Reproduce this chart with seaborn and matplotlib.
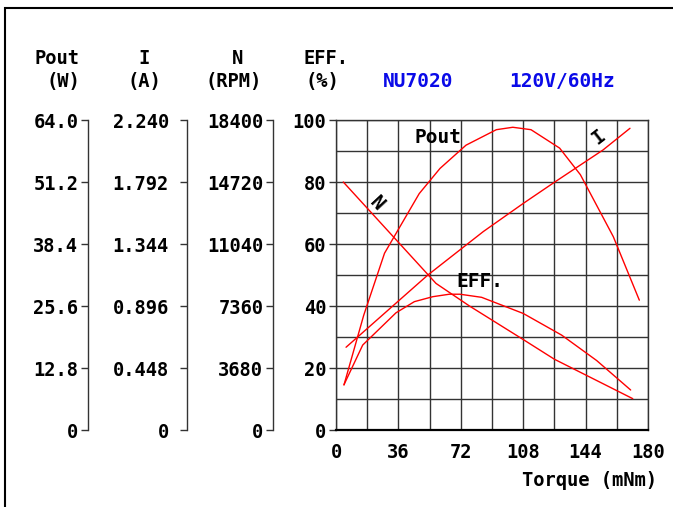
import numpy as np
import pandas as pd
import seaborn as sns
import matplotlib
matplotlib.use("Agg")
import matplotlib.pyplot as plt
from matplotlib.patches import Rectangle

# curve data (torque in mNm)
pout_torque = [4.6, 16, 28, 48, 60, 75, 92.5, 102, 112.5, 129, 141, 160, 175]
pout_w = [9.3, 23.7, 36.5, 48.8, 54.0, 58.8, 62.0, 62.5, 62.0, 58.2, 52.7, 39.9, 26.8]

i_torque = [5.8, 53, 85, 108, 126, 154, 169.6]
i_amp = [0.598, 1.12, 1.434, 1.637, 1.790, 2.023, 2.180]

n_torque = [4.2, 57.7, 77, 108, 126, 171.2]
n_rpm = [14720, 8700, 7360, 5370, 4200, 1860]

eff_torque = [4.6, 15.4, 34.6, 45.2, 55.8, 65.4, 71.5, 84, 108, 130.2, 150.4, 170]
eff_pct = [14.6, 27.4, 37.8, 41.4, 43.0, 43.8, 43.8, 42.8, 37.6, 30.6, 22.4, 12.9]

# axis scales
torque_ticks = [0, 36, 72, 108, 144, 180]
pout_ticks = [0, 12.8, 25.6, 38.4, 51.2, 64.0]
pout_labels = ["0", "12.8", "25.6", "38.4", "51.2", "64.0"]
i_ticks = [0, 0.448, 0.896, 1.344, 1.792, 2.240]
i_labels = ["0", "0.448", "0.896", "1.344", "1.792", "2.240"]
n_ticks = [0, 3680, 7360, 11040, 14720, 18400]
n_labels = ["0", "3680", "7360", "11040", "14720", "18400"]
eff_ticks = [0, 20, 40, 60, 80, 100]
eff_labels = ["0", "20", "40", "60", "80", "100"]

sns.set_style("white")
plt.rcParams["font.family"] = ["DejaVu Sans Mono"]
plt.rcParams["font.weight"] = "bold"
plt.rcParams["text.color"] = "black"
plt.rcParams["xtick.labelcolor"] = "black"
plt.rcParams["ytick.labelcolor"] = "black"

W, H, DPI = 673, 507, 100
fig = plt.figure(figsize=(W / DPI, H / DPI), dpi=DPI)


def px(x, y):
    return x / W, 1 - y / H


# main plot area: 336..648 px wide, 120..430 px tall
ax = fig.add_axes([336 / W, 1 - 430 / H, 312 / W, 310 / H])
ax.set_xlim(0, 180)
ax.set_ylim(0, 100)
ax.set_xticks(torque_ticks)
ax.set_xticklabels([str(t) for t in torque_ticks])
ax.set_xticks(np.arange(18, 180, 36), minor=True)
ax.set_yticks(eff_ticks)
ax.set_yticklabels(eff_labels)
ax.set_yticks(np.arange(10, 100, 20), minor=True)
ax.grid(which="both", color="#333333", lw=1)
ax.tick_params(axis="x", which="both", length=0, pad=9, labelsize=13.5,
               labelcolor="black")
ax.tick_params(axis="y", which="major", direction="out", length=5, width=1,
               color="#333333", pad=2, labelsize=13.5, labelcolor="black")
ax.tick_params(axis="y", which="minor", length=0)
for s in ax.spines.values():
    s.set_color("#333333")
    s.set_linewidth(1)
ax.spines["bottom"].set_color("black")
ax.spines["bottom"].set_linewidth(1.6)

eff_df = pd.DataFrame({"torque": eff_torque, "value": eff_pct})
sns.lineplot(data=eff_df, x="torque", y="value", ax=ax, color="red", lw=1,
             estimator=None, sort=False)
ax.set_xlabel("")
ax.set_ylabel("")


def side_axis(offset_px, ticks, labels, pad):
    t = ax.twinx()
    t.set_ylim(ticks[0], ticks[-1])
    for s in ["top", "right", "bottom"]:
        t.spines[s].set_visible(False)
    t.spines["left"].set_visible(True)
    t.spines["left"].set_color("#333333")
    t.spines["left"].set_linewidth(1)
    t.spines["left"].set_position(("outward", offset_px * 72 / DPI))
    t.yaxis.set_ticks_position("left")
    t.set_yticks(ticks)
    t.set_yticklabels(labels)
    t.tick_params(axis="y", direction="out", length=5, width=1,
                  color="#333333", pad=pad, labelsize=13.5, labelcolor="black")
    return t


ax_n = side_axis(63, n_ticks, n_labels, 2)
ax_i = side_axis(149, i_ticks, i_labels, 8)
ax_p = side_axis(248, pout_ticks, pout_labels, 2)

for a, tq, vals in [(ax_p, pout_torque, pout_w),
                    (ax_i, i_torque, i_amp),
                    (ax_n, n_torque, n_rpm)]:
    d = pd.DataFrame({"torque": tq, "value": vals})
    sns.lineplot(data=d, x="torque", y="value", ax=a, color="red", lw=1,
                 estimator=None, sort=False)
    a.set_xlabel("")
    a.set_ylabel("")

# curve names inside the grid
ax.text(58.8, 94.2, "Pout", ha="center", va="center", fontsize=14)
ax.text(151.7, 94.5, "I", ha="center", va="center", fontsize=14, rotation=38)
ax.text(23.5, 73.1, "N", ha="center", va="center", fontsize=14, rotation=-47)
ax.text(83.1, 47.8, "EFF.", ha="center", va="center", fontsize=14)

# column headers
heads = [("Pout", 57, 59), ("(W)", 63, 82), ("I", 144, 59), ("(A)", 144, 82),
         ("N", 237, 59), ("(RPM)", 234, 82), ("EFF.", 326, 59), ("(%)", 322, 82)]
for txt, x, y in heads:
    fig.text(*px(x, y), txt, ha="center", va="center", fontsize=13.5)

fig.text(*px(418, 82), "NU7020", ha="center", va="center", fontsize=14,
         color="#0a0ae8")
fig.text(*px(562, 82), "120V/60Hz", ha="center", va="center", fontsize=14,
         color="#0a0ae8")
fig.text(*px(657, 481), "Torque (mNm)", ha="right", va="center", fontsize=13.5)

# outer frame (only top and left edges are inside the picture)
fig.patches.append(Rectangle(px(4.5, 560), 1.2, (560 - 8) / H,
                             transform=fig.transFigure, fill=False, lw=1.5,
                             edgecolor="black"))

fig.savefig("out.png", dpi=DPI)
